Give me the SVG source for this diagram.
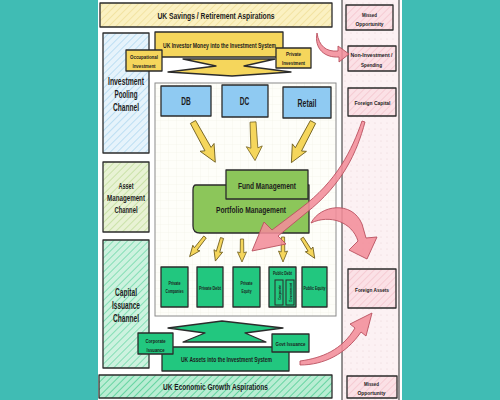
<svg xmlns="http://www.w3.org/2000/svg" width="500" height="400" viewBox="0 0 500 400">
<defs>
<style>
text{font-family:"Liberation Sans","DejaVu Sans",sans-serif;font-weight:bold;fill:#1c1c1c;text-anchor:middle}
.bx{stroke:#2b2b2b;stroke-width:1.3;stroke-linejoin:round}
.thin{stroke:#2b2b2b;stroke-width:1}
.pk{fill:#f28d9a;fill-opacity:0.88;stroke:#b9505f;stroke-width:0.9;stroke-linejoin:round}
.ya{fill:#f5d65c;stroke:#6b5a1a;stroke-width:0.8;stroke-linejoin:round}
</style>
<pattern id="hY" width="5" height="5" patternUnits="userSpaceOnUse" patternTransform="rotate(45)"><rect width="5" height="5" fill="#fbf1c2"/><line x1="0" y1="0" x2="0" y2="5" stroke="#e9d684" stroke-width="1"/></pattern>
<pattern id="hB" width="5" height="5" patternUnits="userSpaceOnUse" patternTransform="rotate(45)"><rect width="5" height="5" fill="#e6f3fb"/><line x1="0" y1="0" x2="0" y2="5" stroke="#93c9ea" stroke-width="1"/></pattern>
<pattern id="hG" width="5" height="5" patternUnits="userSpaceOnUse" patternTransform="rotate(45)"><rect width="5" height="5" fill="#e8f2d4"/><line x1="0" y1="0" x2="0" y2="5" stroke="#acd27e" stroke-width="1"/></pattern>
<pattern id="hT" width="5" height="5" patternUnits="userSpaceOnUse" patternTransform="rotate(45)"><rect width="5" height="5" fill="#cdf2df"/><line x1="0" y1="0" x2="0" y2="5" stroke="#3ccb8b" stroke-width="1"/></pattern>
<pattern id="hT2" width="5" height="5" patternUnits="userSpaceOnUse" patternTransform="rotate(45)"><rect width="5" height="5" fill="#b9edd3"/><line x1="0" y1="0" x2="0" y2="5" stroke="#2ec47f" stroke-width="1.2"/></pattern>
<pattern id="hP" width="5" height="5" patternUnits="userSpaceOnUse" patternTransform="rotate(45)"><rect width="5" height="5" fill="#fbe1e6"/><line x1="0" y1="0" x2="0" y2="5" stroke="#efb6c0" stroke-width="1"/></pattern>
<pattern id="dots" width="6" height="6" patternUnits="userSpaceOnUse"><rect width="6" height="6" fill="#fcf1f3"/><circle cx="3" cy="3" r="0.6" fill="#ead3d8"/></pattern>
<pattern id="grid" width="8" height="8" patternUnits="userSpaceOnUse"><rect width="8" height="8" fill="#fefef9"/><path d="M0 0H8M0 0V8" stroke="#f1f1e4" stroke-width="0.6"/></pattern>
<path id="bigArrow" class="ya" d="M-3,0 L3,0 L3.5,31 L8,29 L0,46 L-8,29 L-3.5,31 Z"/>
<path id="smArrow" class="ya" d="M-1.6,0 L1.6,0 L1.8,15 L4.5,14 L0,25 L-4.5,14 L-1.8,15 Z"/>
</defs>

<rect width="500" height="400" fill="#40bcb4"/>
<rect x="98" y="0" width="304" height="400" fill="#ffffff"/>

<g id="right-column">
<rect x="342" y="-2" width="57" height="404" fill="url(#dots)" class="thin"/>
</g>

<g id="savings-bar">
<rect x="100" y="3" width="232" height="24" fill="url(#hY)" class="bx"/>
<text x="216" y="19" font-size="9.5" textLength="117" lengthAdjust="spacingAndGlyphs">UK Savings / Retirement Aspirations</text>
</g>

<g id="growth-bar">
<rect x="99" y="375" width="233" height="23" fill="url(#hT2)" class="bx"/>
<text x="215.5" y="390" font-size="9.5" textLength="105" lengthAdjust="spacingAndGlyphs">UK Economic Growth Aspirations</text>
</g>

<g id="pooling-channel">
<rect x="103" y="33" width="46" height="120" fill="url(#hB)" class="bx"/>
<text x="126" y="85" font-size="10.5" textLength="36" lengthAdjust="spacingAndGlyphs">Investment</text>
<text x="126" y="98" font-size="10.5" textLength="23" lengthAdjust="spacingAndGlyphs">Pooling</text>
<text x="126" y="111" font-size="10.5" textLength="26" lengthAdjust="spacingAndGlyphs">Channel</text>
</g>

<g id="asset-mgmt-channel">
<rect x="103" y="162" width="46" height="70" fill="url(#hG)" class="bx"/>
<text x="126" y="189" font-size="8.5" textLength="15" lengthAdjust="spacingAndGlyphs">Asset</text>
<text x="126" y="201" font-size="8.5" textLength="38" lengthAdjust="spacingAndGlyphs">Management</text>
<text x="126" y="213" font-size="8.5" textLength="23" lengthAdjust="spacingAndGlyphs">Channel</text>
</g>

<g id="capital-channel">
<rect x="103" y="240" width="46" height="128" fill="url(#hT)" class="bx"/>
<text x="126" y="296" font-size="10.5" textLength="22" lengthAdjust="spacingAndGlyphs">Capital</text>
<text x="126" y="309" font-size="10.5" textLength="28" lengthAdjust="spacingAndGlyphs">Issuance</text>
<text x="126" y="322" font-size="10.5" textLength="26" lengthAdjust="spacingAndGlyphs">Channel</text>
</g>

<g id="inner-box">
<rect x="155" y="83" width="181" height="233" fill="url(#grid)" stroke="#8a8a8a" stroke-width="1"/>
</g>

<g id="investor-money">
<rect x="155" y="32" width="128" height="25" fill="#f5d65c" class="bx"/>
<text x="219.5" y="47.5" font-size="6.5" textLength="113" lengthAdjust="spacingAndGlyphs">UK Investor Money into the Investment System</text>
</g>
<g id="investor-arrow">
<path d="M183,59 L275,59 L244,66 L291,72 L232,76 L168,72 L216,66 Z" fill="#f5d65c" class="bx"/>
</g>
<g id="occupational">
<rect x="126" y="50" width="36" height="21" fill="#f5d65c" class="bx"/>
<text x="144" y="59" font-size="5.5" textLength="28" lengthAdjust="spacingAndGlyphs">Occupational</text>
<text x="144" y="67.5" font-size="5.5" textLength="23" lengthAdjust="spacingAndGlyphs">Investment</text>
</g>
<g id="private-investment">
<rect x="276" y="48" width="35" height="20" fill="#f5d65c" class="bx"/>
<text x="293.5" y="55.5" font-size="5.5" textLength="15" lengthAdjust="spacingAndGlyphs">Private</text>
<text x="293.5" y="64.5" font-size="5.5" textLength="23" lengthAdjust="spacingAndGlyphs">Investment</text>
</g>

<g id="db">
<rect x="161" y="86" width="50" height="30" fill="#8fcaf2" class="bx"/>
<text x="186" y="105" font-size="10" textLength="9.5" lengthAdjust="spacingAndGlyphs">DB</text>
</g>
<g id="dc">
<rect x="222" y="85" width="46" height="32" fill="#8fcaf2" class="bx"/>
<text x="244.5" y="105" font-size="10" textLength="9.5" lengthAdjust="spacingAndGlyphs">DC</text>
</g>
<g id="retail">
<rect x="283" y="87" width="48" height="31" fill="#8fcaf2" class="bx"/>
<text x="307" y="107" font-size="10" textLength="19" lengthAdjust="spacingAndGlyphs">Retail</text>
</g>

<g id="portfolio-management">
<path d="M196,185 L309,185 L309,233 L200,233 Q193,233 193,226 L193,190 Q193,185 196,185 Z" fill="#8cc65a" class="bx"/>
<text x="251" y="213" font-size="9.5" textLength="70" lengthAdjust="spacingAndGlyphs">Portfolio Management</text>
</g>
<g id="fund-management">
<rect x="226" y="170" width="82" height="29" fill="#8cc65a" class="bx"/>
<text x="267" y="189" font-size="9.5" textLength="58" lengthAdjust="spacingAndGlyphs">Fund Management</text>
</g>

<g id="private-companies">
<rect x="161" y="267" width="27" height="40" fill="#22c77f" class="bx"/>
<text x="174.5" y="285" font-size="4.5" textLength="12" lengthAdjust="spacingAndGlyphs">Private</text>
<text x="174.5" y="292.5" font-size="4.5" textLength="18" lengthAdjust="spacingAndGlyphs">Companies</text>
</g>
<g id="private-debt">
<rect x="197" y="267" width="26" height="40" fill="#22c77f" class="bx"/>
<text x="210" y="289.5" font-size="4.5" textLength="22" lengthAdjust="spacingAndGlyphs">Private Debt</text>
</g>
<g id="private-equity">
<rect x="233" y="267" width="27" height="40" fill="#22c77f" class="bx"/>
<text x="246.5" y="285" font-size="4.5" textLength="12" lengthAdjust="spacingAndGlyphs">Private</text>
<text x="246.5" y="292.5" font-size="4.5" textLength="10" lengthAdjust="spacingAndGlyphs">Equity</text>
</g>
<g id="public-debt">
<rect x="269" y="267" width="27" height="40" fill="#22c77f" class="bx"/>
<text x="282.5" y="275" font-size="4.5" textLength="19" lengthAdjust="spacingAndGlyphs">Public Debt</text>
<rect x="275" y="280" width="8" height="25" fill="#22c77f" class="thin"/>
<rect x="286" y="280" width="8" height="25" fill="#22c77f" class="thin"/>
<text transform="translate(280.5,292.5) rotate(-90)" font-size="4" textLength="15" lengthAdjust="spacingAndGlyphs">Corporate</text>
<text transform="translate(291.5,292.5) rotate(-90)" font-size="4" textLength="19" lengthAdjust="spacingAndGlyphs">Government</text>
</g>
<g id="public-equity">
<rect x="302" y="267" width="25" height="40" fill="#22c77f" class="bx"/>
<text x="314.5" y="289.5" font-size="4.5" textLength="22" lengthAdjust="spacingAndGlyphs">Public Equity</text>
</g>

<g id="assets-arrow">
<path d="M222,321 L283,328 L245,333 L266,342 L183,342 L205,333 L168,328 Z" fill="#22c77f" class="bx"/>
</g>
<g id="uk-assets">
<rect x="162" y="347" width="127" height="24" fill="#22c77f" class="bx"/>
<text x="226.5" y="361.5" font-size="6.5" textLength="91" lengthAdjust="spacingAndGlyphs">UK Assets into the Investment System</text>
</g>
<g id="corporate-issuance">
<rect x="138" y="333" width="35" height="21" fill="#22c77f" class="bx"/>
<text x="155.5" y="343" font-size="5.5" textLength="20" lengthAdjust="spacingAndGlyphs">Corporate</text>
<text x="155.5" y="351.5" font-size="5.5" textLength="18" lengthAdjust="spacingAndGlyphs">Issuance</text>
</g>
<g id="govt-issuance">
<rect x="272" y="334" width="37" height="18" fill="#22c77f" class="bx"/>
<text x="290.5" y="346" font-size="5.5" textLength="30" lengthAdjust="spacingAndGlyphs">Govt Issuance</text>
</g>

<g id="missed-top">
<rect x="346" y="5" width="47" height="25" fill="url(#hP)" class="bx"/>
<text x="369.5" y="16.5" font-size="5.8" textLength="15" lengthAdjust="spacingAndGlyphs">Missed</text>
<text x="369.5" y="26" font-size="5.8" textLength="28" lengthAdjust="spacingAndGlyphs">Opportunity</text>
</g>
<g id="non-investment">
<rect x="348" y="46" width="48" height="25" fill="url(#hP)" class="bx"/>
<text x="371.5" y="57" font-size="5.8" textLength="42" lengthAdjust="spacingAndGlyphs">Non-Investment /</text>
<text x="371.5" y="66.5" font-size="5.8" textLength="21" lengthAdjust="spacingAndGlyphs">Spending</text>
</g>
<g id="foreign-capital">
<rect x="348" y="88" width="48" height="28" fill="url(#hP)" class="bx"/>
<text x="372.5" y="105" font-size="5.8" textLength="36" lengthAdjust="spacingAndGlyphs">Foreign Capital</text>
</g>
<g id="foreign-assets">
<rect x="348" y="269" width="48" height="39" fill="url(#hP)" class="bx"/>
<text x="372" y="292" font-size="5.8" textLength="34" lengthAdjust="spacingAndGlyphs">Foreign Assets</text>
</g>
<g id="missed-bottom">
<rect x="347" y="376" width="50" height="22" fill="url(#hP)" class="bx"/>
<text x="371.5" y="385.5" font-size="5.8" textLength="15" lengthAdjust="spacingAndGlyphs">Missed</text>
<text x="371.5" y="394.5" font-size="5.8" textLength="28" lengthAdjust="spacingAndGlyphs">Opportunity</text>
</g>

<g id="connectors">
<use href="#bigArrow" transform="translate(193,122) rotate(-29)"/>
<use href="#bigArrow" transform="translate(253,122) rotate(-3) scale(1,0.84)"/>
<use href="#bigArrow" transform="translate(313,122) rotate(28)"/>
<use href="#smArrow" transform="translate(205,237) rotate(38)"/>
<use href="#smArrow" transform="translate(222,238) rotate(16) scale(1,0.96)"/>
<use href="#smArrow" transform="translate(242,239) scale(1,0.92)"/>
<use href="#smArrow" transform="translate(283,237)"/>
<use href="#smArrow" transform="translate(302,238) rotate(-32) scale(1,0.96)"/>
<path class="pk" d="M317,33 C319,46 326,52 338,51 L338,46 L349,54 L339,62 L339,57 C325,58 314,49 317,33 Z"/>
<path class="pk" d="M362,121 C352,150 337,181 301,208 L272,230 L264,222 L252,251 L286,244 L278,236 L306,213 C343,184 357,152 365,122 Z"/>
<path class="pk" d="M311,223 C320,205 352,200 362,224 L366,238 L377,237 L367,259 L349,250 L358,241 C352,222 330,214 311,223 Z"/>
<path class="pk" d="M300,361 C322,358 342,350 355,328 L350,324 L372,313 L366,336 L361,332 C346,354 324,365 300,365 Z"/>
</g>
</svg>
